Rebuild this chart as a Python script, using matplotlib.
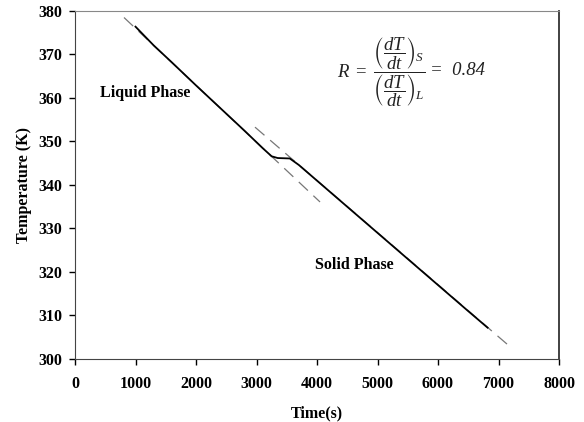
import matplotlib
matplotlib.use("Agg")
import matplotlib.pyplot as plt
import numpy as np

plt.rcParams['font.family'] = ['Liberation Serif', 'DejaVu Serif']
plt.rcParams['mathtext.fontset'] = 'custom'
plt.rcParams['mathtext.rm'] = 'Liberation Serif'
plt.rcParams['mathtext.it'] = 'Liberation Serif:italic'
plt.rcParams['mathtext.bf'] = 'Liberation Serif:bold'
plt.rcParams['mathtext.fallback'] = 'stix'

# measured cooling curve
time_s = [1000, 1300, 1600, 2000, 2400, 2800, 3100, 3250, 3350, 3550, 3700,
          4200, 4800, 5400, 6000, 6500, 6820]
temp_K = [376.4, 372.1, 368.2, 362.9, 357.7, 352.5, 348.5, 346.6, 346.2, 346.1,
          344.6, 338.6, 331.4, 324.2, 317.0, 311.0, 307.2]

# linear fits (dashed)
liquid_fit_t = [810, 4050]
liquid_fit_T = [378.5, 336.1]
solid_fit_t = [2975, 7160]
solid_fit_T = [353.3, 303.2]

xticks = [0, 1000, 2000, 3000, 4000, 5000, 6000, 7000, 8000]
yticks = [300, 310, 320, 330, 340, 350, 360, 370, 380]

ratio = 0.84

fig = plt.figure(figsize=(5.84, 4.22), dpi=100)
ax = fig.add_axes([75/584, 1 - 359/422, (559-75)/584, (359-11)/422])

ax.plot(liquid_fit_t, liquid_fit_T, color='#777777', lw=0.9, dashes=(10, 6))
ax.plot(solid_fit_t, solid_fit_T, color='#777777', lw=0.9, dashes=(10, 6))
ax.plot(time_s, temp_K, color='black', lw=1.3)

ax.set_xlim(0, 8000)
ax.set_ylim(300, 380)
ax.set_xticks(xticks)
ax.set_yticks(yticks)
ax.tick_params(direction='out', length=4, width=1, labelsize=11.5)
ax.tick_params(axis='x', pad=8)
ax.tick_params(axis='y', pad=5)
for lab in ax.get_xticklabels() + ax.get_yticklabels():
    lab.set_fontweight('bold')

for side in ['left', 'bottom']:
    ax.spines[side].set_color('#444444')
ax.spines['top'].set_color('#888888')
ax.spines['right'].set_color('#333333')
ax.spines['right'].set_linewidth(1.3)

ax.set_xlabel('Time(s)', fontsize=11.5, fontweight='bold', labelpad=10)
ax.set_ylabel('Temperature (K)', fontsize=11.5, fontweight='bold', labelpad=5)

ax.text(413, 361.1, 'Liquid Phase', fontsize=11.5, fontweight='bold', va='center')
ax.text(3967, 321.6, 'Solid Phase', fontsize=11.5, fontweight='bold', va='center')

# ratio equation: fraction in mathtext, value in italic text
ax.text(5800, 366,
        r'$R\ =\ \dfrac{\left(\dfrac{dT}{dt}\right)_S}{\left(\dfrac{dT}{dt}\right)_L}$',
        fontsize=13.5, ha='right', va='center', color='#222222')
ax.text(5870, 366.4, f'=  {ratio:.2f}', fontsize=13.5, fontstyle='italic',
        ha='left', va='center', color='#222222')

fig.savefig('out.png', dpi=100)
